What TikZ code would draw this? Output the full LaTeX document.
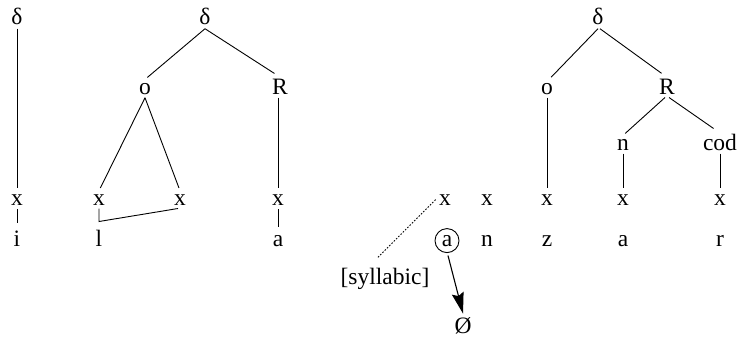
\documentclass[tikz,border=0pt]{standalone}
\usepackage{fontspec}
\setmainfont{Liberation Serif}
\usetikzlibrary{arrows.meta}
\begin{document}
\begin{tikzpicture}[x=1pt,y=-1pt,
  every node/.style={inner sep=0pt,outer sep=3.5pt,anchor=base,font=\fontsize{23.5}{28}\selectfont},
  conn/.style={line width=0.9pt, shorten >=3pt},
  tick/.style={line width=0.9pt, shorten >=4pt, shorten <=0.5pt},
  ring/.style={draw,circle,line width=0.9pt,minimum size=24pt,inner sep=0pt,outer sep=3pt}]
\useasboundingbox (0,0) rectangle (738,337);
% first structure
\node (d1) at (17,25) {δ};
\node (x1) at (17,205) {x};
\node (i1) at (17,246) {i};
\draw[conn] (d1.south) -- (x1.north);
\draw[tick] (x1.south) -- (i1.north);
% second structure
\node (d2) at (205,25) {δ};
\node (o2) at (145,94) {o};
\node (R2) at (280,94) {R};
\node (xl1) at (99,205) {x};
\node (xl2) at (180,205) {x};
\node (l2) at (99,246) {l};
\node (xR2) at (278,205) {x};
\node (a2) at (278,246) {a};
\draw[conn] (d2.south) -- (o2.north);
\draw[conn] (d2.south) -- ([xshift=-3pt]R2.north);
\draw[conn] (o2.south) -- (xl1.north);
\draw[conn] (o2.south) -- (xl2.north);
\draw[conn] ([xshift=-2pt]R2.south) -- (xR2.north);
\draw[line width=0.9pt] (xl1.south) -- ++(0,13) -- ([xshift=-2pt]xl2.south);
\draw[tick] (xR2.south) -- (a2.north);
% middle
\node (x5) at (445,205) {x};
\node (x6) at (487,205) {x};
\node[ring] (ca) at (447,246) {a};
\node (n6) at (487,246) {n};
\node (syl) at (385,284) {[syllabic]};
\node (null) at (463,333) {Ø};
\draw[line width=0.8pt,dash pattern=on 1.6pt off 1.6pt] (x5.west) -- ([xshift=-8pt,yshift=6pt]syl.north);
\draw[line width=1.1pt,-{Stealth[length=21pt,width=12pt,inset=3pt]}] ([xshift=1pt]ca.south) -- (null.north);
% third structure
\node (d3) at (598,25) {δ};
\node (o3) at (547,94) {o};
\node (R3) at (667,94) {R};
\node (n3) at (623,150) {n};
\node (cod3) at (720,150) {cod};
\node (x7) at (547,205) {x};
\node (x8) at (623,205) {x};
\node (x9) at (720,205) {x};
\node (z7) at (547,246) {z};
\node (a8) at (623,246) {a};
\node (r9) at (720,246) {r};
\draw[conn] (d3.south) -- ([xshift=2pt]o3.north);
\draw[conn] ([xshift=2pt]d3.south) -- ([xshift=-3pt]R3.north);
\draw[conn] (o3.south) -- (x7.north);
\draw[conn] ([xshift=-2pt]R3.south) -- (n3.north);
\draw[conn] ([xshift=2pt]R3.south) -- ([xshift=-4pt]cod3.north);
\draw[conn] (n3.south) -- (x8.north);
\draw[conn] (cod3.south) -- (x9.north);
\end{tikzpicture}
\end{document}
